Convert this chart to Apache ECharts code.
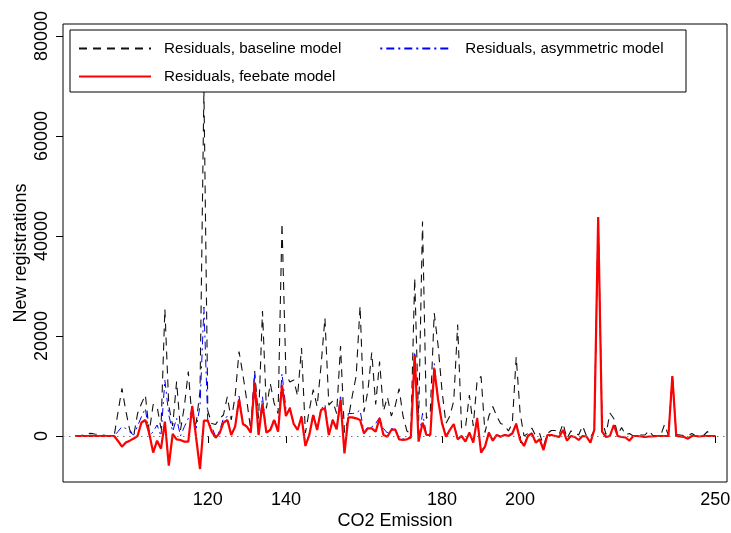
<!DOCTYPE html>
<html>
<head>
<meta charset="utf-8">
<script src="https://cdn.jsdelivr.net/npm/echarts@6/dist/echarts.min.js"></script>
<style>
html,body{margin:0;padding:0;background:#fff;}
#chart{width:731px;height:533px;}
</style>
</head>
<body>
<div id="chart"></div>
<script>
const co2 = [
 86,87,88,89,90,91,92,93,94,95,
 96,97,98,99,100,101,102,103,104,105,
 106,107,108,109,110,111,112,113,114,115,
 116,117,118,119,120,121,122,123,124,125,
 126,127,128,129,130,131,132,133,134,135,
 136,137,138,139,140,141,142,143,144,145,
 146,147,148,149,150,151,152,153,154,155,
 156,157,158,159,160,161,162,163,164,165,
 166,167,168,169,170,171,172,173,174,175,
 176,177,178,179,180,181,182,183,184,185,
 186,187,188,189,190,191,192,193,194,195,
 196,197,198,199,200,201,202,203,204,205,
 206,207,208,209,210,211,212,213,214,215,
 216,217,218,219,220,221,222,223,224,225,
 226,227,228,229,230,231,232,233,234,235,
 236,237,238,239,240,241,242,243,244,245,
 246,247,248,249,250
];
const baseline = [
 0,0,200,400,530,400,300,200,100,100,
 0,4800,9530,5000,1200,0,4500,6500,8200,800,
 6300,5900,1500,25400,6000,2000,10900,1200,6000,12900,
 3000,2500,9000,69500,5000,2500,2300,3500,4200,7900,
 3200,8000,16900,12200,7000,1200,13000,3500,25000,5500,
 10500,6500,4500,42600,12500,10800,11200,8000,17600,600,
 5200,9300,5900,14000,23600,6200,7000,4500,18000,700,
 3500,8000,12000,26000,4800,9000,16700,6300,14900,5000,
 7800,4000,6000,9500,4000,1000,500,31600,3000,42900,
 3500,5000,24600,18000,9000,2500,4000,7000,22300,1600,
 1600,8200,2000,11200,11900,700,4000,5900,4000,2500,
 2200,1000,2500,15800,4600,0,500,1600,0,500,
 -2000,500,1100,1100,300,2500,-500,1000,800,200,
 2000,0,-400,1200,44000,3300,300,4600,3500,300,
 1700,200,500,0,200,200,200,1100,100,100,
 100,2300,100,12200,300,200,100,100,500,0,
 100,100,900,0,0
];
const asymmetric = [
 0,0,0,0,0,0,0,0,0,0,
 0,900,1870,1500,800,200,2000,3870,5530,0,
 870,2200,0,11200,4200,870,3530,0,1870,3530,
 5200,1530,6000,25800,2530,1870,-100,1000,3530,3870,
 200,2000,8000,2500,2000,800,12500,300,7870,800,
 1300,3500,1000,12500,5500,5800,2600,1300,4000,-1800,
 400,4500,1300,5400,6300,400,3400,1500,8200,-3000,
 4500,4500,4600,5200,700,1800,1800,2500,3700,1500,
 600,1500,1500,-400,-600,-600,0,16870,-900,4530,
 400,400,14530,7500,2800,0,1300,2600,-500,100,
 -1000,800,-1200,3700,-3000,-2000,800,-800,300,0,
 300,100,600,2530,-700,-1900,100,600,-1200,-600,
 -2700,200,200,0,-200,1200,-930,0,-200,-800,
 0,-100,-1330,1200,43800,870,-200,0,2200,0,
 -200,-300,-930,0,0,-100,-200,-100,-100,0,
 0,0,0,12000,0,-100,-200,-530,0,0,
 -100,0,0,0,0
];
const feebate = [
 0,0,0,0,0,0,0,0,0,0,
 0,-1000,-2130,-1300,-930,-500,0,2700,3200,500,
 -3330,-930,-2530,2870,-5930,400,-670,-800,-1130,-1130,
 6000,-300,-6600,3070,3070,870,-330,530,2670,3200,
 200,1870,7330,2400,1870,670,10670,200,6530,670,
 1200,3200,870,10200,4000,5530,2400,1200,3870,-2000,
 200,4200,1200,5200,5530,200,3200,1330,7200,-3470,
 3730,3730,3530,3200,530,1530,1530,870,3530,200,
 -130,1200,1330,-670,-800,-670,-300,16200,-1130,2670,
 200,200,13530,7200,2530,-130,1200,2400,-670,0,
 -1130,670,-1330,3530,-3330,-2130,670,-930,200,-130,
 200,0,500,2400,-800,-2000,0,530,-1330,-670,
 -2800,200,200,0,-200,1200,-930,0,-200,-800,
 0,-100,-1330,1200,43800,870,-200,0,2200,0,
 -200,-300,-930,0,0,-100,-200,-100,-100,0,
 0,0,0,12000,0,-100,-200,-530,0,0,
 -100,0,0,0,0
];
const xTicks = [120, 140, 180, 200, 250];
const yTicks = [0, 20000, 40000, 60000, 80000];
const seriesNames = ['Residuals, baseline model', 'Residuals, asymmetric model', 'Residuals, feebate model'];

const pairs = (vals) => co2.map((x, i) => [x, vals[i]]);
const FONT = '"Liberation Sans", Arial, Helvetica, sans-serif';

const chart = echarts.init(document.getElementById('chart'), null, {renderer: 'canvas'});
const legendText = {fontSize: 15.2, color: '#000', fontFamily: FONT, padding: [0, 0, 0, 8]};
chart.setOption({
  animation: false,
  backgroundColor: '#fff',
  grid: {left: 63, right: 4, top: 24, bottom: 51, show: true, borderColor: '#000', borderWidth: 1,
         backgroundColor: 'transparent', containLabel: false, outerBoundsMode: 'none'},
  xAxis: {
    type: 'value', min: 82.9, max: 253,
    axisLine: {show: false},
    splitLine: {show: false},
    axisTick: {show: true, customValues: xTicks, length: 7, lineStyle: {color: '#000', width: 1}},
    axisLabel: {customValues: xTicks, fontSize: 18, color: '#000', margin: 9, fontFamily: FONT,
                formatter: (v) => String(v)},
    name: 'CO2 Emission', nameLocation: 'middle', nameGap: 30, nameMoveOverlap: false,
    nameTextStyle: {fontSize: 18, color: '#000', fontFamily: FONT}
  },
  yAxis: {
    type: 'value', min: -9200, max: 82400,
    axisLine: {show: false},
    splitLine: {show: false},
    axisTick: {show: true, customValues: yTicks, length: 7, lineStyle: {color: '#000', width: 1}},
    axisLabel: {customValues: yTicks, rotate: 90, fontSize: 18, color: '#000', margin: 12, fontFamily: FONT,
                formatter: (v) => String(v)},
    name: 'New registrations', nameLocation: 'middle', nameGap: 33, nameRotate: 90, nameMoveOverlap: false,
    nameTextStyle: {fontSize: 18, color: '#000', fontFamily: FONT}
  },
  legend: [
    {data: [seriesNames[0], seriesNames[1]], left: 78, top: 41, padding: 0, itemWidth: 72, itemHeight: 14, itemGap: 38,
     textStyle: legendText, itemStyle: {opacity: 0}, z: 20, selectedMode: false},
    {data: [seriesNames[2]], left: 78, top: 69, padding: 0, itemWidth: 72, itemHeight: 14,
     textStyle: legendText, itemStyle: {opacity: 0}, z: 20, selectedMode: false}
  ],
  graphic: [{
    type: 'rect', z: 10, silent: true,
    shape: {x: 70, y: 30, width: 616, height: 62},
    style: {fill: '#fff', stroke: '#000', lineWidth: 1}
  }],
  series: [
    {type: 'line', name: 'zero', data: [], silent: true, z: 1,
     markLine: {silent: true, symbol: 'none', label: {show: false},
       lineStyle: {color: '#777', type: [1.5, 4.5], width: 1},
       data: [{yAxis: 0}]}},
    {type: 'line', name: seriesNames[0], data: pairs(baseline), symbol: 'none', z: 2,
     lineStyle: {color: '#111', width: 1.1, type: [8, 6]}, itemStyle: {color: '#111'}},
    {type: 'line', name: seriesNames[1], data: pairs(asymmetric), symbol: 'none', z: 3,
     lineStyle: {color: '#0000ff', width: 1, type: [2, 4, 8, 4]}, itemStyle: {color: '#0000ff'}},
    {type: 'line', name: seriesNames[2], data: pairs(feebate), symbol: 'none', z: 4,
     lineStyle: {color: '#ff0000', width: 2.2}, itemStyle: {color: '#ff0000'}}
  ]
});
</script>
</body>
</html>
